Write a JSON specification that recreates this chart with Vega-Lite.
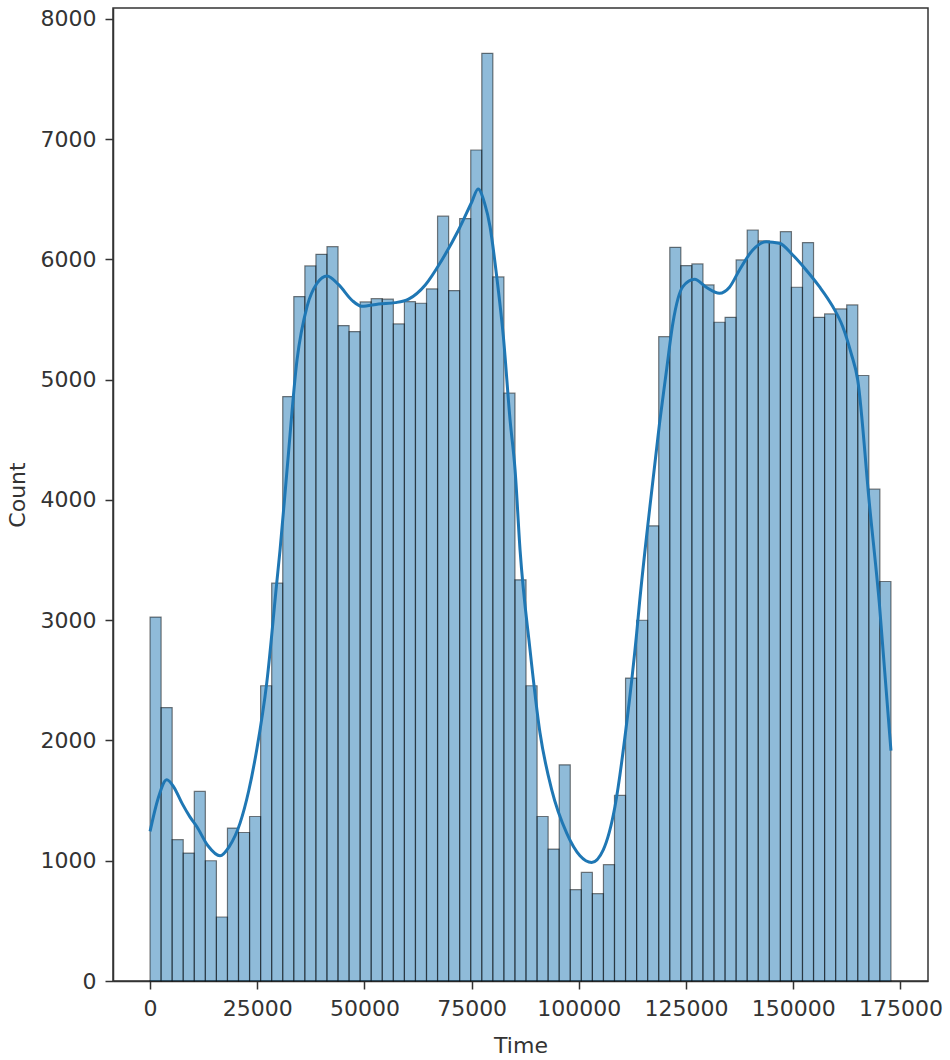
{
  "$schema": "https://vega.github.io/schema/vega-lite/v6.json",
  "width": 815,
  "height": 973,
  "autosize": {"type": "none"},
  "padding": {"left": 113, "top": 8, "right": 22, "bottom": 79},
  "background": "white",
  "config": {
    "view": {"stroke": "#333333", "strokeWidth": 1.5},
    "font": "DejaVu Sans",
    "axis": {
      "grid": false,
      "domainColor": "#333333",
      "domainWidth": 1.5,
      "tickColor": "#333333",
      "tickWidth": 1.5,
      "tickSize": 8,
      "labelFont": "DejaVu Sans",
      "labelFontSize": 22,
      "labelColor": "#333333",
      "titleFont": "DejaVu Sans",
      "titleFontSize": 22,
      "titleFontWeight": "normal",
      "titleColor": "#333333"
    }
  },
  "datasets": {
    "bins": [
      {"start": 0, "end": 2579, "count": 3026},
      {"start": 2579, "end": 5158, "count": 2274},
      {"start": 5158, "end": 7737, "count": 1175},
      {"start": 7737, "end": 10316, "count": 1064},
      {"start": 10316, "end": 12895, "count": 1576},
      {"start": 12895, "end": 15474, "count": 1000},
      {"start": 15474, "end": 18053, "count": 532},
      {"start": 18053, "end": 20632, "count": 1272},
      {"start": 20632, "end": 23211, "count": 1235},
      {"start": 23211, "end": 25790, "count": 1368},
      {"start": 25790, "end": 28369, "count": 2455},
      {"start": 28369, "end": 30948, "count": 3308},
      {"start": 30948, "end": 33527, "count": 4860},
      {"start": 33527, "end": 36106, "count": 5691},
      {"start": 36106, "end": 38685, "count": 5946},
      {"start": 38685, "end": 41264, "count": 6043},
      {"start": 41264, "end": 43843, "count": 6106},
      {"start": 43843, "end": 46422, "count": 5450},
      {"start": 46422, "end": 49001, "count": 5400},
      {"start": 49001, "end": 51580, "count": 5647},
      {"start": 51580, "end": 54159, "count": 5674},
      {"start": 54159, "end": 56738, "count": 5670},
      {"start": 56738, "end": 59317, "count": 5464},
      {"start": 59317, "end": 61896, "count": 5649},
      {"start": 61896, "end": 64475, "count": 5636},
      {"start": 64475, "end": 67054, "count": 5755},
      {"start": 67054, "end": 69633, "count": 6360},
      {"start": 69633, "end": 72212, "count": 5741},
      {"start": 72212, "end": 74791, "count": 6340},
      {"start": 74791, "end": 77370, "count": 6910},
      {"start": 77370, "end": 79949, "count": 7714},
      {"start": 79949, "end": 82528, "count": 5855},
      {"start": 82528, "end": 85106, "count": 4888},
      {"start": 85106, "end": 87685, "count": 3336},
      {"start": 87685, "end": 90264, "count": 2455},
      {"start": 90264, "end": 92843, "count": 1368},
      {"start": 92843, "end": 95422, "count": 1097},
      {"start": 95422, "end": 98001, "count": 1798},
      {"start": 98001, "end": 100580, "count": 759},
      {"start": 100580, "end": 103159, "count": 903},
      {"start": 103159, "end": 105738, "count": 726},
      {"start": 105738, "end": 108317, "count": 967},
      {"start": 108317, "end": 110896, "count": 1543},
      {"start": 110896, "end": 113475, "count": 2519},
      {"start": 113475, "end": 116054, "count": 3000},
      {"start": 116054, "end": 118633, "count": 3785},
      {"start": 118633, "end": 121212, "count": 5358},
      {"start": 121212, "end": 123791, "count": 6101},
      {"start": 123791, "end": 126370, "count": 5949},
      {"start": 126370, "end": 128949, "count": 5963},
      {"start": 128949, "end": 131528, "count": 5788},
      {"start": 131528, "end": 134107, "count": 5478},
      {"start": 134107, "end": 136686, "count": 5519},
      {"start": 136686, "end": 139265, "count": 5996},
      {"start": 139265, "end": 141844, "count": 6245},
      {"start": 141844, "end": 144423, "count": 6154},
      {"start": 144423, "end": 147002, "count": 6143},
      {"start": 147002, "end": 149581, "count": 6231},
      {"start": 149581, "end": 152160, "count": 5769},
      {"start": 152160, "end": 154739, "count": 6140},
      {"start": 154739, "end": 157318, "count": 5519},
      {"start": 157318, "end": 159897, "count": 5547},
      {"start": 159897, "end": 162476, "count": 5589},
      {"start": 162476, "end": 165055, "count": 5622},
      {"start": 165055, "end": 167634, "count": 5035},
      {"start": 167634, "end": 170213, "count": 4090},
      {"start": 170213, "end": 172792, "count": 3322}
    ],
    "kde": [
      {"time": 0, "density": 1244},
      {"time": 1900, "density": 1520},
      {"time": 3890, "density": 1673},
      {"time": 5500, "density": 1615},
      {"time": 7500, "density": 1475},
      {"time": 9300, "density": 1365},
      {"time": 10890, "density": 1285},
      {"time": 13500, "density": 1125},
      {"time": 16320, "density": 1042},
      {"time": 18500, "density": 1120},
      {"time": 20990, "density": 1313},
      {"time": 23000, "density": 1580},
      {"time": 24880, "density": 1923},
      {"time": 27210, "density": 2477},
      {"time": 29540, "density": 3308},
      {"time": 30320, "density": 3585},
      {"time": 31950, "density": 4250},
      {"time": 34280, "density": 5165},
      {"time": 36610, "density": 5608},
      {"time": 38940, "density": 5802},
      {"time": 41270, "density": 5863},
      {"time": 43990, "density": 5790},
      {"time": 47100, "density": 5660},
      {"time": 49430, "density": 5610},
      {"time": 53310, "density": 5630},
      {"time": 57190, "density": 5641},
      {"time": 60300, "density": 5670},
      {"time": 64190, "density": 5788},
      {"time": 68070, "density": 5996},
      {"time": 71950, "density": 6245},
      {"time": 75060, "density": 6480},
      {"time": 76500, "density": 6586},
      {"time": 78000, "density": 6470},
      {"time": 79290, "density": 6273},
      {"time": 80850, "density": 5857},
      {"time": 82400, "density": 5358},
      {"time": 83960, "density": 4666},
      {"time": 85130, "density": 4250},
      {"time": 86290, "density": 3585},
      {"time": 88620, "density": 2754},
      {"time": 90950, "density": 2062},
      {"time": 93680, "density": 1590},
      {"time": 97170, "density": 1230},
      {"time": 100270, "density": 1042},
      {"time": 102990, "density": 986},
      {"time": 105700, "density": 1091},
      {"time": 108430, "density": 1451},
      {"time": 111160, "density": 2145},
      {"time": 113490, "density": 2893},
      {"time": 114170, "density": 3150},
      {"time": 116500, "density": 3920},
      {"time": 118830, "density": 4640},
      {"time": 120380, "density": 5060},
      {"time": 121930, "density": 5470},
      {"time": 124260, "density": 5774},
      {"time": 126990, "density": 5835},
      {"time": 129710, "density": 5769},
      {"time": 132810, "density": 5719},
      {"time": 135140, "density": 5769},
      {"time": 137470, "density": 5913},
      {"time": 140570, "density": 6079},
      {"time": 143690, "density": 6148},
      {"time": 146790, "density": 6135},
      {"time": 149890, "density": 6037},
      {"time": 153010, "density": 5913},
      {"time": 156110, "density": 5774},
      {"time": 159220, "density": 5608},
      {"time": 161550, "density": 5441},
      {"time": 163500, "density": 5220},
      {"time": 165040, "density": 4998},
      {"time": 167750, "density": 3973},
      {"time": 170080, "density": 3142},
      {"time": 172792, "density": 1915}
    ]
  },
  "layer": [
    {
      "data": {"name": "bins"},
      "mark": {"type": "rect", "fill": "#1f77b4", "fillOpacity": 0.5, "stroke": "#000000", "strokeOpacity": 0.5, "strokeWidth": 1.2},
      "encoding": {
        "x": {
          "field": "start", "type": "quantitative",
          "scale": {"domain": [-8640, 181432], "nice": false, "zero": false},
          "axis": {"title": "Time", "values": [0, 25000, 50000, 75000, 100000, 125000, 150000, 175000], "format": "d", "labelPadding": 9, "titlePadding": 16}
        },
        "x2": {"field": "end"},
        "y": {
          "field": "count", "type": "quantitative",
          "scale": {"domain": [0, 8091], "nice": false},
          "axis": {"title": "Count", "values": [0, 1000, 2000, 3000, 4000, 5000, 6000, 7000, 8000], "format": "d", "labelPadding": 9, "titlePadding": 11}
        },
        "y2": {"datum": 0}
      }
    },
    {
      "data": {"name": "kde"},
      "mark": {"type": "line", "color": "#1f77b4", "strokeWidth": 3, "interpolate": "monotone"},
      "encoding": {
        "x": {"field": "time", "type": "quantitative"},
        "y": {"field": "density", "type": "quantitative"}
      }
    }
  ]
}
